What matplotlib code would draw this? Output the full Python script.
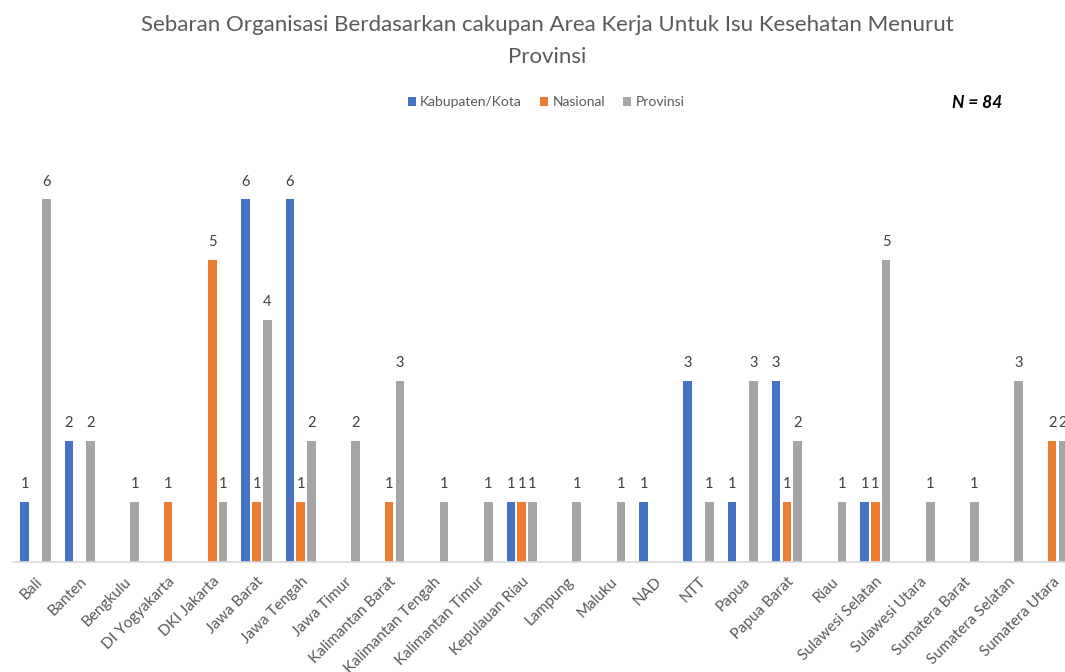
import matplotlib
matplotlib.use("Agg")
import matplotlib.pyplot as plt
import numpy as np

plt.rcParams['font.family'] = ['Lato', 'DejaVu Sans']

categories = ["Bali", "Banten", "Bengkulu", "DI Yogyakarta", "DKI Jakarta", "Jawa Barat",
              "Jawa Tengah", "Jawa Timur", "Kalimantan Barat", "Kalimantan Tengah",
              "Kalimantan Timur", "Kepulauan Riau", "Lampung", "Maluku", "NAD", "NTT",
              "Papua", "Papua Barat", "Riau", "Sulawesi Selatan", "Sulawesi Utara",
              "Sumatera Barat", "Sumatera Selatan", "Sumatera Utara"]
kabupaten = [1, 2, None, None, None, 6, 6, None, None, None, None, 1, None, None, 1, 3,
             1, 3, None, 1, None, None, None, None]
nasional = [None, None, None, 1, 5, 1, 1, None, 1, None, None, 1, None, None, None, None,
            None, 1, None, 1, None, None, None, 2]
provinsi = [6, 2, 1, None, 1, 4, 2, 2, 3, 1, 1, 1, 1, 1, None, 1, 3, 2, 1, 5, 1, 1, 3, 2]
series_names = ["Kabupaten/Kota", "Nasional", "Provinsi"]
colors = ["#4472C4", "#ED7D31", "#A5A5A5"]

W, H = 1065, 672
fig = plt.figure(figsize=(W / 100, H / 100), dpi=100)
left_px, right_px, top_px, base_px = 13.4, 13.4 + 24 * 44.2, 139, 562
ax = fig.add_axes([left_px / W, (H - base_px) / H, (right_px - left_px) / W, (base_px - top_px) / H])

x = np.arange(len(categories))
offsets = [-0.244, 0.0, 0.244]
for vals, off, col, name in zip([kabupaten, nasional, provinsi], offsets, colors, series_names):
    v = np.array([np.nan if a is None else a for a in vals], dtype=float)
    ax.bar(x + off, np.nan_to_num(v), width=0.197, color=col, label=name, zorder=2)
    for xi, vi in zip(x + off, v):
        if not np.isnan(vi):
            ax.text(xi, vi + 0.18, f"{int(vi)}", ha='center', va='bottom', fontsize=10.5,
                    color='#404040')

ax.set_xlim(-0.5, len(categories) - 0.5)
ax.set_ylim(0, 7)
ax.set_yticks([])
for s in ['top', 'right', 'left']:
    ax.spines[s].set_visible(False)
ax.spines['bottom'].set_color('#D9D9D9')
ax.spines['bottom'].set_linewidth(1.2)
ax.set_xticks(x)
ax.set_xticklabels(categories, rotation=45, ha='right', rotation_mode='anchor',
                   fontsize=11, color='#595959')
ax.tick_params(axis='x', length=0, pad=9)

fig.text(0.514, 1 - 25 / H, "Sebaran Organisasi Berdasarkan cakupan Area Kerja Untuk Isu Kesehatan Menurut",
         ha='center', va='center', fontsize=16, color='#595959')
fig.text(0.514, 1 - 57 / H, "Provinsi", ha='center', va='center', fontsize=16, color='#595959')

leg = fig.legend(loc='center', bbox_to_anchor=(546 / W, 1 - 102 / H), ncol=3, frameon=False,
                 fontsize=10, handlelength=0.6, handleheight=0.6, handletextpad=0.3,
                 columnspacing=1.3, labelcolor='#595959')

fig.text(977 / W, 1 - 103 / H, "N = 84", ha='center', va='center', fontsize=12.5,
         fontweight='bold', fontstyle='italic', color='black')

fig.savefig("out.png", dpi=100)
